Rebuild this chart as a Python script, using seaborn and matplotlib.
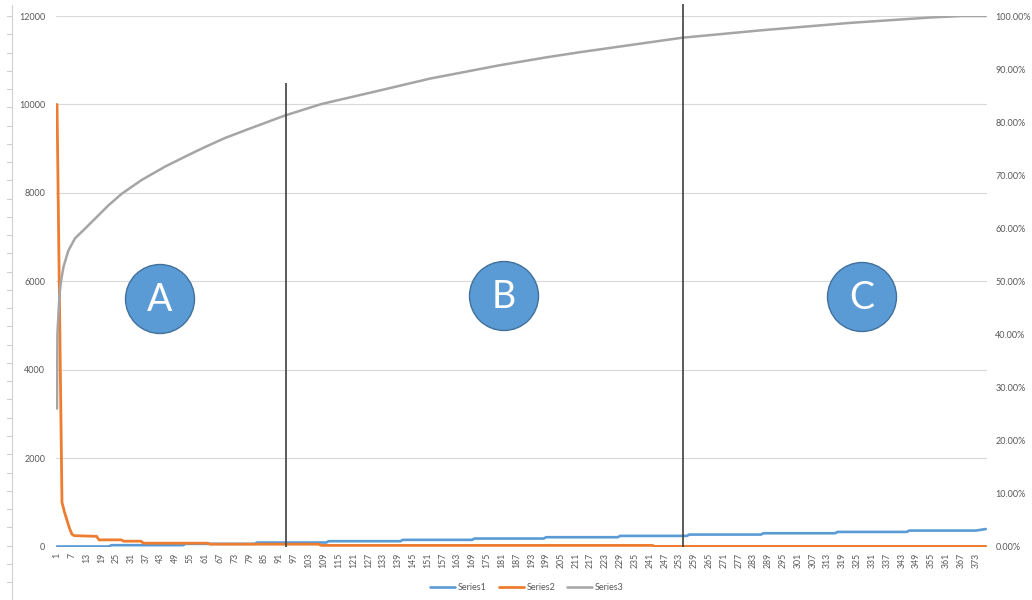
import numpy as np
import pandas as pd
import matplotlib
matplotlib.use("Agg")
import matplotlib.pyplot as plt
import seaborn as sns
from matplotlib.patches import Circle

# ---------------- data ----------------
n_points = 377
tick_positions = list(range(1, 374, 6))
tick_labels = [str(v) for v in tick_positions]

# Series1 (blue, primary axis) - stepped, read at its breakpoints
s1_idx = [1, 22, 23, 52, 53, 81, 82, 110, 111, 140, 141, 169, 170, 198, 199,
          228, 229, 256, 257, 286, 287, 316, 317, 345, 346, 373, 377]
s1_val = [0, 0, 30, 30, 60, 60, 90, 90, 120, 120, 150, 150, 180, 180, 210,
          210, 240, 240, 270, 270, 300, 300, 330, 330, 360, 360, 395]

# Series2 (orange, primary axis)
s2_idx = [1, 2, 3, 4, 5, 6, 7, 8, 17, 18, 27, 28, 35, 36, 62, 63, 107, 108,
          242, 243, 377]
s2_val = [10000, 5500, 1000, 780, 600, 420, 280, 245, 230, 150, 150, 120, 120,
          75, 75, 52, 52, 25, 25, 3, 3]

# Series3 (gray, secondary axis, cumulative share)
s3_idx = [1, 1.15, 2, 2.6, 3.6, 5.6, 8.3, 12.3, 16.4, 21.8, 27.2, 35.3, 44.7,
          54.2, 60.9, 69, 78, 93, 108, 132, 152, 180, 199, 213, 254, 286,
          322, 354, 367, 377]
s3_val = [0.26, 0.40, 0.475, 0.50, 0.527, 0.558, 0.581, 0.599, 0.618, 0.643,
          0.665, 0.691, 0.716, 0.738, 0.753, 0.770, 0.786, 0.812, 0.834,
          0.860, 0.882, 0.907, 0.922, 0.932, 0.959, 0.973, 0.987, 0.997,
          1.0, 1.0]

series_names = ["Series1", "Series2", "Series3"]
left_ticks = list(range(0, 12001, 2000))
right_ticks = [i / 10 for i in range(0, 11)]

# section markers (category position, top value in %-axis units)
divider_idx = [93.7, 254.4]
divider_top = [0.874, 1.023]
zone_labels = ["A", "B", "C"]

# ---------------- style ----------------
sns.set_theme(style="white")
plt.rcParams['font.family'] = ['Lato', 'DejaVu Sans']

BLUE, ORANGE, GRAY = "#5B9BD5", "#ED7D31", "#A5A5A5"
TXT = "#595959"
GRID = "#D9D9D9"

W, H = 1032, 600
fig = plt.figure(figsize=(W / 100, H / 100), dpi=100)
L, R, T, B = 55.8, 987.0, 16.0, 546.5
ax = fig.add_axes([L / W, 1 - B / H, (R - L) / W, (B - T) / H])
ax2 = ax.twinx()

df1 = pd.DataFrame({"x": s1_idx, "y": s1_val})
df2 = pd.DataFrame({"x": s2_idx, "y": s2_val})
df3 = pd.DataFrame({"x": s3_idx, "y": s3_val})

sns.lineplot(data=df1, x="x", y="y", ax=ax, color=BLUE, lw=1.9,
             label=series_names[0], legend=False)
sns.lineplot(data=df2, x="x", y="y", ax=ax, color=ORANGE, lw=2.0,
             label=series_names[1], legend=False)
sns.lineplot(data=df3, x="x", y="y", ax=ax2, color=GRAY, lw=1.8,
             label=series_names[2], legend=False)

ax.set_xlim(0.5, n_points + 0.5)
ax.set_ylim(0, 12000)
ax2.set_ylim(0, 1)

for a in (ax, ax2):
    for s in a.spines.values():
        s.set_visible(False)
    a.set_xlabel("")
    a.set_ylabel("")

ax.set_yticks(left_ticks)
ax.set_yticklabels([str(v) for v in left_ticks])
ax.yaxis.grid(True, color=GRID, lw=0.8)
ax.xaxis.grid(False)
ax.set_axisbelow(True)
ax.tick_params(axis='y', length=0, pad=7.5, labelsize=6.5, labelcolor=TXT)

ax.set_xticks(tick_positions)
ax.set_xticklabels(tick_labels, rotation=90)
ax.tick_params(axis='x', length=0, pad=4.5, labelsize=6.3, labelcolor=TXT)

ax2.set_yticks(right_ticks)
ax2.set_yticklabels([f"{v * 100:.2f}%" for v in right_ticks])
ax2.tick_params(axis='y', length=0, pad=6, labelsize=6.5, labelcolor=TXT)
ax2.grid(False)

# dividing lines
ax2.vlines(divider_idx, 0, divider_top, color="#3F3F3F", lw=1.2,
           clip_on=False, zorder=6)

# overlay for annotations (pixel coordinates)
ov = fig.add_axes([0, 0, 1, 1])
ov.set_xlim(0, W)
ov.set_ylim(H, 0)
ov.axis('off')
ov.set_zorder(5)
ov.patch.set_alpha(0)

centers = [(160, 299), (504, 296), (862, 297)]
for (cx, cy), lab in zip(centers, zone_labels):
    ov.add_patch(Circle((cx, cy), 34.5, facecolor=BLUE, edgecolor="#41719C",
                        lw=1.0))
    ov.text(cx, cy + 1, lab, color="white", fontsize=27, ha="center",
            va="center")

# stray axis on the far left
ov.plot([11.7, 11.7], [5, 600], color="#D0D0D0", lw=0.8)
for yy in np.arange(16, 600, 18.26):
    ov.plot([7.0, 11.7], [yy, yy], color="#D0D0D0", lw=0.8)

# legend
h1, l1 = ax.get_legend_handles_labels()
h2, l2 = ax2.get_legend_handles_labels()
fig.legend(h1 + h2, l1 + l2, loc="center", bbox_to_anchor=(527 / W, 1 - 588 / H),
           ncol=3, frameon=False, fontsize=6.5, handlelength=2.8,
           handletextpad=0.3, columnspacing=1.3, labelcolor=TXT)

fig.savefig("out.png", dpi=100)
